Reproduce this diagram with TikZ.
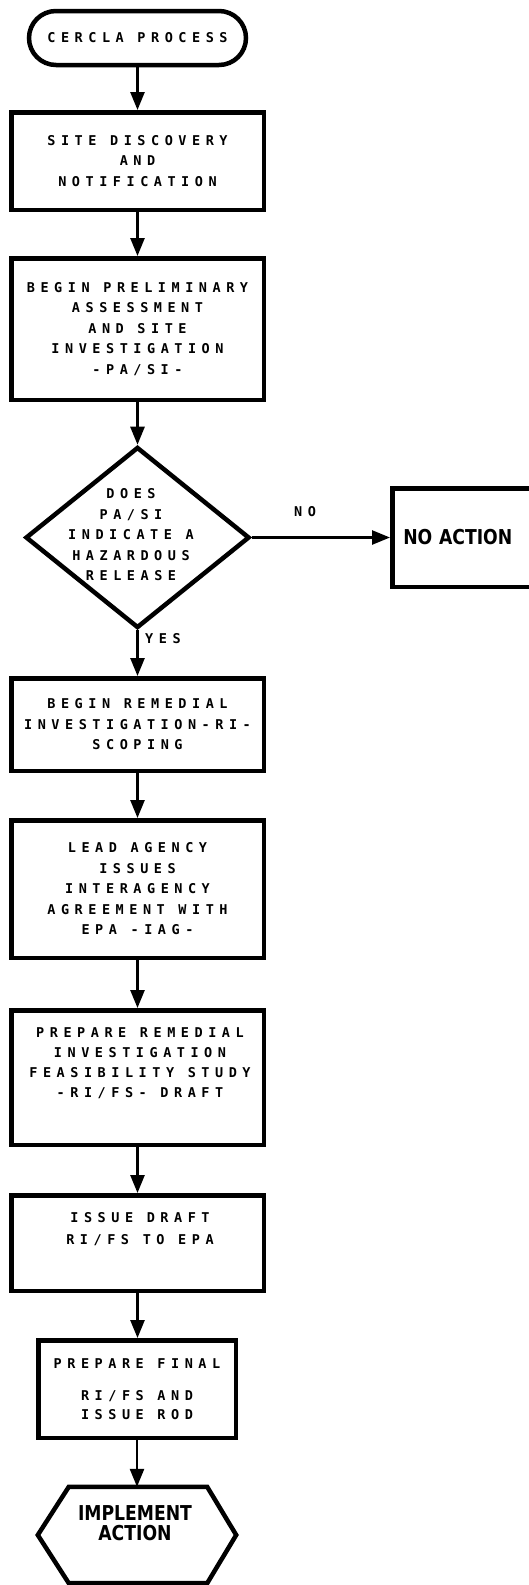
\documentclass[tikz,border=0pt]{standalone}
\usepackage{fontspec}
\usetikzlibrary{arrows.meta,shapes.geometric,shapes.misc}
% plotter-style lettering and hand-lettered labels
\newfontfamily\plotfont{DejaVu Sans Mono}[LetterSpace=41]
\newfontfamily\handfont{DejaVu Sans}[FakeStretch=0.84]

\begin{document}
\begin{tikzpicture}[x=1pt,y=-1pt,
  outline/.style={draw=black, line width=4.5pt, inner sep=0pt},
  stepbox/.style={outline, rectangle, minimum width=252.5pt},
  plot/.style={font=\plotfont\bfseries\fontsize{13.5}{20.5}\selectfont, align=center, inner sep=0pt},
  hand/.style={font=\handfont\bfseries\fontsize{20.5}{20}\selectfont, align=center},
  flow/.style={draw=black, line width=2.6pt, -{Triangle[length=18pt,width=14pt]}},
]
\useasboundingbox (0,0) rectangle (529,1585);
\fill[white] (0,0) rectangle (529,1585);
\clip (0,0) rectangle (529,1585);

% start terminator
\node[outline, plot, rounded rectangle, minimum width=217pt, minimum height=54pt] (start) at (137.5,38) {CERCLA PROCESS};

% main column of steps
\node[stepbox, plot, minimum height=97.5pt] (b1) at (137.5,161) {SITE DISCOVERY\\AND\\NOTIFICATION};
\node[stepbox, plot, minimum height=141.5pt] (b2) at (137.5,329) {BEGIN PRELIMINARY\\ASSESSMENT\\AND SITE\\INVESTIGATION\\-PA/SI-};

% decision
\node[outline, diamond, minimum width=224pt, minimum height=181pt] (dia) at (137.5,537.5) {};
\node[plot] (diatext) at (131,535) {DOES\\PA/SI\\INDICATE A\\HAZARDOUS\\RELEASE};

\node[outline, rectangle, anchor=west, minimum height=98.5pt, text width=135pt, inner xsep=11pt, align=left,
      font=\handfont\bfseries\fontsize{20.5}{20}\selectfont] (noact) at (390,537.5) {NO ACTION};

\node[stepbox, plot, minimum height=92.5pt] (b3) at (137.5,724.5) {BEGIN REMEDIAL\\INVESTIGATION-RI-\\SCOPING};
\node[stepbox, plot, minimum height=137.5pt] (b4) at (137.5,889) {LEAD AGENCY\\ISSUES\\INTERAGENCY\\AGREEMENT WITH\\EPA -IAG-};

\node[stepbox, minimum height=134.5pt] (b5) at (137.5,1077.5) {};
\node[plot, font=\plotfont\bfseries\fontsize{13.5}{20}\selectfont] (b5text) at (140,1063) {PREPARE REMEDIAL\\INVESTIGATION\\FEASIBILITY STUDY\\-RI/FS- DRAFT};

\node[stepbox, minimum height=95.5pt] (b6) at (137.5,1243) {};
\node[plot, font=\plotfont\bfseries\fontsize{13.5}{22}\selectfont] (b6text) at (140,1229) {ISSUE DRAFT\\RI/FS TO EPA};

\node[outline, rectangle, plot, font=\plotfont\bfseries\fontsize{13.5}{19}\selectfont,
      minimum width=197.5pt, minimum height=97.5pt] (b7) at (137,1389) {PREPARE FINAL\\[13pt]RI/FS AND\\ISSUE ROD};

% end terminal: flat-topped hexagon
\node[minimum width=198pt, minimum height=96pt, inner sep=0pt] (hex) at (137,1535) {};
\draw[line width=4.5pt, line join=miter]
  (hex.west) -- ([xshift=31pt]hex.north west) -- ([xshift=-29pt]hex.north east) -- (hex.east)
  -- ([xshift=-29pt]hex.south east) -- ([xshift=31pt]hex.south west) -- cycle;
\node[hand, inner sep=0pt] (hextext) at (135,1523) {IMPLEMENT\\ACTION};

% connectors
\draw[flow] (start) -- (b1);
\draw[flow] (b1) -- (b2);
\draw[flow] (b2) -- (dia);
\draw[flow] (dia.south) -- (b3.north);
\draw[flow] (dia.east) -- (noact.west);
\draw[flow] (b3) -- (b4);
\draw[flow] (b4) -- (b5);
\draw[flow] (b5) -- (b6);
\draw[flow] (b6.south) -- (b6.south |- b7.north);
\draw[flow] (b7) -- (hex.north);

% branch labels
\node[plot, anchor=west] (yes) at (145,639) {YES};
\node[plot] (no) at (305,512) {NO};
\end{tikzpicture}
\end{document}
